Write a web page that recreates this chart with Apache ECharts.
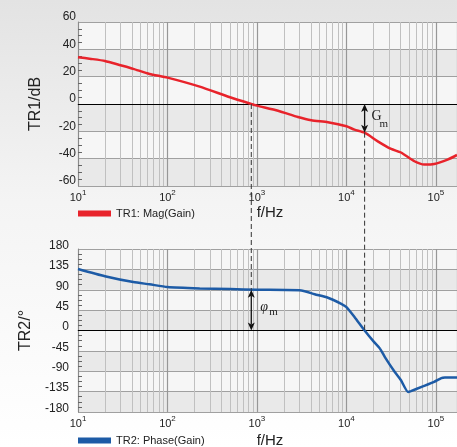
<!DOCTYPE html>
<html><head><meta charset="utf-8">
<script src="https://cdn.jsdelivr.net/npm/echarts@6/dist/echarts.min.js"></script>
<style>html,body{margin:0;padding:0;background:#fff}#c{width:457px;height:447px}</style>
</head><body><div id="c"></div>
<script>
// ---- data ----
const gainFreq = [10, 14, 20, 30, 41.5, 63, 100, 229, 500, 864, 1000, 1720, 2870, 4050, 6210, 10000, 12300, 15960, 22400, 31600, 40700, 57500, 74100, 95500, 135000, 172000];
const gainDb   = [34.2, 33, 31.5, 28.3, 25.7, 22, 19.3, 12.7, 4.9, 0, -1.2, -4.9, -9.5, -11.9, -13.4, -16.3, -18.8, -21, -27.3, -32.9, -35.5, -41.9, -44.3, -43.9, -40.7, -37.3];
const phaseFreq = [10, 20, 41.5, 63, 100, 229, 500, 1000, 3130, 4420, 6210, 8750, 10000, 12300, 15960, 20400, 23700, 26900, 34700, 40700, 49000, 52500, 69200, 95500, 115000, 126000, 172000];
const phaseDeg  = [136, 120, 107, 102, 96, 93, 91.5, 90, 88.5, 80, 72.4, 59, 51.8, 30, 0, -25.7, -40, -58.8, -91.8, -110, -136, -134, -124.5, -113.5, -105, -104, -104];
const magTicks = [-60, 20, 60];      // min, step, max
const phaseTicks = [-180, 45, 180];  // min, step, max
const freqRange = [10, 172000];
const crossFreq = [864, 15960];      // gain crossover, phase crossover
const phaseAtGainCross = [90];
const gainAtPhaseCross = [-21];
const legendNames = ['TR1: Mag(Gain)', 'TR2: Phase(Gain)'];
const axisNames = ['TR1/dB', 'TR2/°', 'f/Hz'];

// minor decade grid lines (2..9 x decade)
const minorFreqs = [];
for (let d = 10; d < freqRange[1]; d *= 10) for (let k = 2; k <= 9; k++) if (k * d < freqRange[1]) minorFreqs.push(k * d);

const FONT = '"Liberation Sans", Arial, sans-serif';
const RED = '#e8232b', BLUE = '#1d5ba6';

function xAxisCfg(gi, gap) {
  return {
    type: 'log', logBase: 10, gridIndex: gi, min: freqRange[0], max: freqRange[1],
    axisLine: { show: true, lineStyle: { color: '#8a8a8a' } },
    axisTick: { show: false },
    splitLine: { show: true, lineStyle: { color: '#979797', width: 1.2 } },
    axisLabel: {
      margin: 3,
      formatter: v => { const l = Math.log10(v), e = Math.round(l); return Math.abs(l - e) < 1e-6 ? '{b|10}{s|' + e + '}' : ''; },
      rich: {
        b: { fontSize: 11, color: '#222', fontFamily: FONT, verticalAlign: 'bottom', padding: [3, 0, 0, 0] },
        s: { fontSize: 8, color: '#222', fontFamily: FONT, verticalAlign: 'top' }
      }
    },
    name: axisNames[2], nameLocation: 'middle', nameGap: gap,
    nameTextStyle: { fontSize: 15, color: '#222', fontFamily: FONT, padding: [0, 0, 0, 5] }
  };
}
function yAxisCfg(gi, t, name, margin, lh) {
  return {
    type: 'value', gridIndex: gi, min: t[0], max: t[2], interval: t[1],
    axisLine: { show: true, lineStyle: { color: '#8a8a8a' } },
    axisTick: { show: false, inside: true },
    minorTick: { show: true, splitNumber: 4, length: 4, lineStyle: { color: '#666' } },
    splitLine: { show: true, lineStyle: { color: '#a0a0a0' } },
    splitArea: { show: true, areaStyle: { color: ['#e9e9e9', '#f6f6f6'] } },
    axisLabel: { margin: margin, fontSize: 12, color: '#222', fontFamily: FONT, verticalAlign: 'bottom', lineHeight: lh },
    name: name, nameLocation: 'middle', nameGap: 34,
    nameTextStyle: { fontSize: 16, color: '#222', fontFamily: FONT }
  };
}
function gridLines() {
  return {
    silent: true, symbol: 'none', z: 1, animation: false,
    label: { show: false },
    lineStyle: { color: '#c0c0c0', type: 'solid', width: 1 },
    emphasis: { disabled: true },
    data: minorFreqs.map(f => ({ xAxis: f })).concat([{ yAxis: 0, lineStyle: { color: '#000', width: 1.2 } }])
  };
}

const chart = echarts.init(document.getElementById('c'), null, { renderer: 'canvas' });
chart.setOption({
  animation: false,
  grid: [
    { left: 78, top: 22, width: 379, height: 164, outerBoundsMode: 'none' },
    { left: 78, top: 249, width: 379, height: 163, outerBoundsMode: 'none' }
  ],
  xAxis: [xAxisCfg(0, 19), xAxisCfg(1, 21)],
  yAxis: [yAxisCfg(0, magTicks, axisNames[0], 2, 10), yAxisCfg(1, phaseTicks, axisNames[1], 9, 7)],
  legend: [
    { data: [legendNames[0]], left: 73, top: 203, icon: 'rect', itemWidth: 33, itemHeight: 6, itemGap: 5,
      textStyle: { fontSize: 11, color: '#222', fontFamily: FONT } },
    { data: [legendNames[1]], left: 73, top: 430, icon: 'rect', itemWidth: 33, itemHeight: 6, itemGap: 5,
      textStyle: { fontSize: 11, color: '#222', fontFamily: FONT } }
  ],
  series: [
    { name: legendNames[0], type: 'line', xAxisIndex: 0, yAxisIndex: 0, z: 3,
      data: gainFreq.map((f, i) => [f, gainDb[i]]), smooth: 0.2, symbol: 'none',
      lineStyle: { color: RED, width: 2.5 }, itemStyle: { color: RED }, markLine: gridLines() },
    { name: legendNames[1], type: 'line', xAxisIndex: 1, yAxisIndex: 1, z: 3,
      data: phaseFreq.map((f, i) => [f, phaseDeg[i]]), smooth: 0.2, symbol: 'none',
      lineStyle: { color: BLUE, width: 2.5 }, itemStyle: { color: BLUE }, markLine: gridLines() }
  ]
});

// ---- annotations positioned via the axes ----
const g0 = { xAxisIndex: 0, yAxisIndex: 0 }, g1 = { xAxisIndex: 1, yAxisIndex: 1 };
const a0 = chart.convertToPixel(g0, [crossFreq[0], 0]);
const a1 = chart.convertToPixel(g1, [crossFreq[0], phaseAtGainCross[0]]);
const a2 = chart.convertToPixel(g1, [crossFreq[0], 0]);
const b0 = chart.convertToPixel(g0, [crossFreq[1], 0]);
const b1 = chart.convertToPixel(g0, [crossFreq[1], gainAtPhaseCross[0]]);
const b2 = chart.convertToPixel(g1, [crossFreq[1], 0]);

function dashed(x, y1, y2) {
  return { type: 'line', z: 100, silent: true, shape: { x1: x, y1: y1, x2: x, y2: y2 },
    style: { stroke: '#333', lineWidth: 1, lineDash: [5, 3] } };
}
function dblArrow(x, yTop, yBot) {
  const h = 8, w = 3.5, n = 6;
  return [
    { type: 'line', z: 100, silent: true, shape: { x1: x, y1: yTop + n, x2: x, y2: yBot - n }, style: { stroke: '#111', lineWidth: 1.3 } },
    { type: 'polygon', z: 100, silent: true, shape: { points: [[x, yTop], [x - w, yTop + h], [x, yTop + n], [x + w, yTop + h]] }, style: { fill: '#111' } },
    { type: 'polygon', z: 100, silent: true, shape: { points: [[x, yBot], [x - w, yBot - h], [x, yBot - n], [x + w, yBot - h]] }, style: { fill: '#111' } }
  ];
}
const SERIF = '"Liberation Serif", "DejaVu Serif", serif';
const gfx = [
  { type: 'rect', z: -100, silent: true, shape: { x: 0, y: 0, width: 457, height: 447 },
    style: { fill: { type: 'linear', x: 0, y: 0, x2: 0, y2: 1, colorStops: [
      { offset: 0, color: '#e3e3e3' }, { offset: 0.45, color: '#f4f4f4' }, { offset: 1, color: '#ffffff' }] } } },
  dashed(a0[0], a0[1], a1[1]),
  dashed(b1[0], b1[1], b2[1]),
  ...dblArrow(b0[0], b0[1], b1[1]),
  ...dblArrow(a1[0], a1[1], a2[1]),
  { type: 'text', z: 100, silent: true, x: b0[0] + 7, y: (b0[1] + b1[1]) / 2 - 2,
    style: { text: 'G', fontSize: 14, fontFamily: SERIF, fill: '#222', verticalAlign: 'middle' } },
  { type: 'text', z: 100, silent: true, x: b0[0] + 15, y: (b0[1] + b1[1]) / 2 + 6,
    style: { text: 'm', fontSize: 11, fontFamily: SERIF, fill: '#222', verticalAlign: 'middle' } },
  { type: 'text', z: 100, silent: true, x: a1[0] + 9, y: (a1[1] + a2[1]) / 2 - 3,
    style: { text: 'φ', fontSize: 14, fontStyle: 'italic', fontFamily: SERIF, fill: '#222', verticalAlign: 'middle' } },
  { type: 'text', z: 100, silent: true, x: a1[0] + 18, y: (a1[1] + a2[1]) / 2 + 2,
    style: { text: 'm', fontSize: 11, fontFamily: SERIF, fill: '#222', verticalAlign: 'middle' } }
];
chart.setOption({ graphic: gfx });
</script>
</body></html>
